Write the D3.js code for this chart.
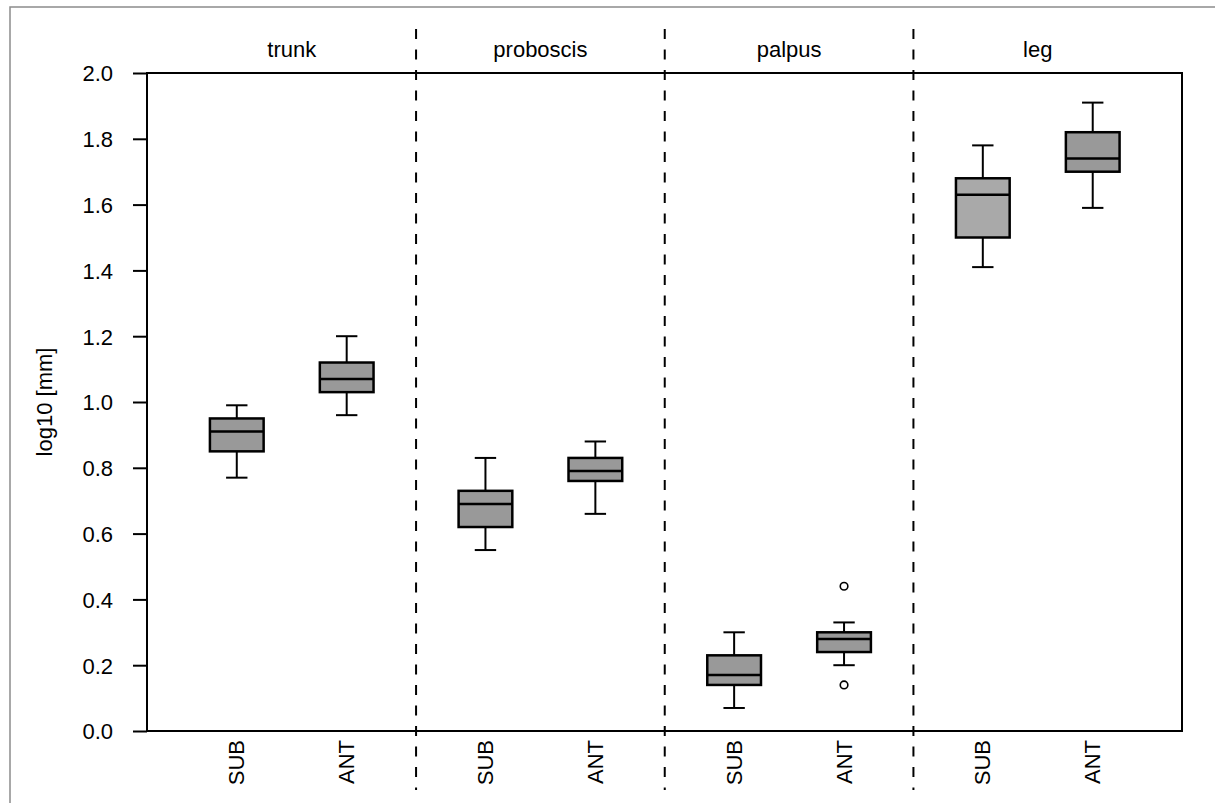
<!DOCTYPE html>
<html>
<head>
<meta charset="utf-8">
<script src="https://cdn.jsdelivr.net/npm/d3@7"></script>
<style>
  html, body { margin: 0; padding: 0; background: #fff; }
  svg { display: block; font-family: "Liberation Sans", Arial, sans-serif; }
</style>
</head>
<body>
<svg id="chart" width="1215" height="803"></svg>
<script>
// Body part panels and the two populations compared in each
const parts = ["trunk", "proboscis", "palpus", "leg"];
const groups = ["SUB", "ANT"];

// Five-number summaries per part: [min whisker, Q1, median, Q3, max whisker]
const subStats = [
  [0.77, 0.85, 0.91, 0.95, 0.99],
  [0.55, 0.62, 0.69, 0.73, 0.83],
  [0.07, 0.14, 0.17, 0.23, 0.30],
  [1.41, 1.50, 1.63, 1.68, 1.78]
];
const antStats = [
  [0.96, 1.03, 1.07, 1.12, 1.20],
  [0.66, 0.76, 0.79, 0.83, 0.88],
  [0.20, 0.24, 0.28, 0.30, 0.33],
  [1.59, 1.70, 1.74, 1.82, 1.91]
];
// Outliers: [part index, group, value]
const outliers = [
  [2, "ANT", 0.44],
  [2, "ANT", 0.14]
];
const yTicks = [0, 0.2, 0.4, 0.6, 0.8, 1.0, 1.2, 1.4, 1.6, 1.8, 2.0];
const yTitle = "log10 [mm]";

const svg = d3.select("#chart");
const fontSize = 22;

// Layout
const plot = { left: 147, right: 1182, top: 73, bottom: 731 };
const x = d3.scaleLinear().domain([-0.582, 3.58]).range([plot.left, plot.right]);
const y = d3.scaleLinear().domain([0, 2]).range([plot.bottom, plot.top]);
const offset = { SUB: -0.221, ANT: 0.221 };
const boxHalf = 0.108;
const capHalf = 0.043;

// Outer frame
svg.append("rect")
  .attr("x", 10).attr("y", 7)
  .attr("width", 1300).attr("height", 900)
  .attr("fill", "none").attr("stroke", "#8c8c8c").attr("stroke-width", 1.5);

// Panel dividers
svg.append("g").selectAll("line")
  .data(d3.range(parts.length - 1))
  .join("line")
  .attr("x1", d => x(d + 0.5)).attr("x2", d => x(d + 0.5))
  .attr("y1", 29).attr("y2", 790)
  .attr("stroke", "#000").attr("stroke-width", 2)
  .attr("stroke-dasharray", "10,10.5");

// Plot frame
svg.append("rect")
  .attr("x", plot.left).attr("y", plot.top)
  .attr("width", plot.right - plot.left).attr("height", plot.bottom - plot.top)
  .attr("fill", "none").attr("stroke", "#000").attr("stroke-width", 2);

// Y axis
const yAxis = d3.axisLeft(y).tickValues(yTicks).tickFormat(d3.format(".1f")).tickSize(14).tickPadding(20);
const ya = svg.append("g").attr("transform", `translate(${plot.left},0)`).call(yAxis);
ya.select(".domain").remove();
ya.selectAll(".tick line").attr("stroke", "#000").attr("stroke-width", 2);
ya.selectAll(".tick text")
  .attr("fill", "#000").attr("font-size", fontSize)
  .attr("font-family", "Liberation Sans, Arial, sans-serif")
  .attr("dy", "0.36em");

// Y title
svg.append("text")
  .attr("transform", `translate(52,${(plot.top + plot.bottom) / 2}) rotate(-90)`)
  .attr("text-anchor", "middle")
  .attr("font-size", fontSize)
  .text(yTitle);

// Panel titles
svg.append("g").selectAll("text")
  .data(parts)
  .join("text")
  .attr("x", (d, i) => x(i)).attr("y", 57)
  .attr("text-anchor", "middle")
  .attr("font-size", fontSize)
  .text(d => d);

// Category labels under each box
const cats = parts.flatMap((p, i) => groups.map(g => ({ i, g })));
svg.append("g").selectAll("text")
  .data(cats)
  .join("text")
  .attr("transform", d => `translate(${x(d.i + offset[d.g]) + 7.5},740) rotate(-90)`)
  .attr("text-anchor", "end")
  .attr("font-size", fontSize)
  .text(d => d.g);

// Boxes
const boxes = parts.flatMap((p, i) => [
  { i, g: "SUB", s: subStats[i] },
  { i, g: "ANT", s: antStats[i] }
]);
const fillFor = d => (d.g === "SUB" && d.i === 3) ? "#a9a9a9" : "#999999";

const bg = svg.append("g").selectAll("g").data(boxes).join("g");
// whiskers
bg.append("line")
  .attr("x1", d => x(d.i + offset[d.g])).attr("x2", d => x(d.i + offset[d.g]))
  .attr("y1", d => y(d.s[0])).attr("y2", d => y(d.s[1]))
  .attr("stroke", "#000").attr("stroke-width", 2);
bg.append("line")
  .attr("x1", d => x(d.i + offset[d.g])).attr("x2", d => x(d.i + offset[d.g]))
  .attr("y1", d => y(d.s[3])).attr("y2", d => y(d.s[4]))
  .attr("stroke", "#000").attr("stroke-width", 2);
// caps
[0, 4].forEach(k => {
  bg.append("line")
    .attr("x1", d => x(d.i + offset[d.g] - capHalf)).attr("x2", d => x(d.i + offset[d.g] + capHalf))
    .attr("y1", d => y(d.s[k])).attr("y2", d => y(d.s[k]))
    .attr("stroke", "#000").attr("stroke-width", 2);
});
// box
bg.append("rect")
  .attr("x", d => x(d.i + offset[d.g] - boxHalf))
  .attr("width", d => x(d.i + offset[d.g] + boxHalf) - x(d.i + offset[d.g] - boxHalf))
  .attr("y", d => y(d.s[3]))
  .attr("height", d => y(d.s[1]) - y(d.s[3]))
  .attr("fill", fillFor)
  .attr("stroke", "#000").attr("stroke-width", 2.5);
// median
bg.append("line")
  .attr("x1", d => x(d.i + offset[d.g] - boxHalf)).attr("x2", d => x(d.i + offset[d.g] + boxHalf))
  .attr("y1", d => y(d.s[2])).attr("y2", d => y(d.s[2]))
  .attr("stroke", "#000").attr("stroke-width", 2.5);

// Outliers
svg.append("g").selectAll("circle")
  .data(outliers)
  .join("circle")
  .attr("cx", d => x(d[0] + offset[d[1]]))
  .attr("cy", d => y(d[2]))
  .attr("r", 3.8)
  .attr("fill", "#fff").attr("stroke", "#000").attr("stroke-width", 1.6);
</script>
</body>
</html>
